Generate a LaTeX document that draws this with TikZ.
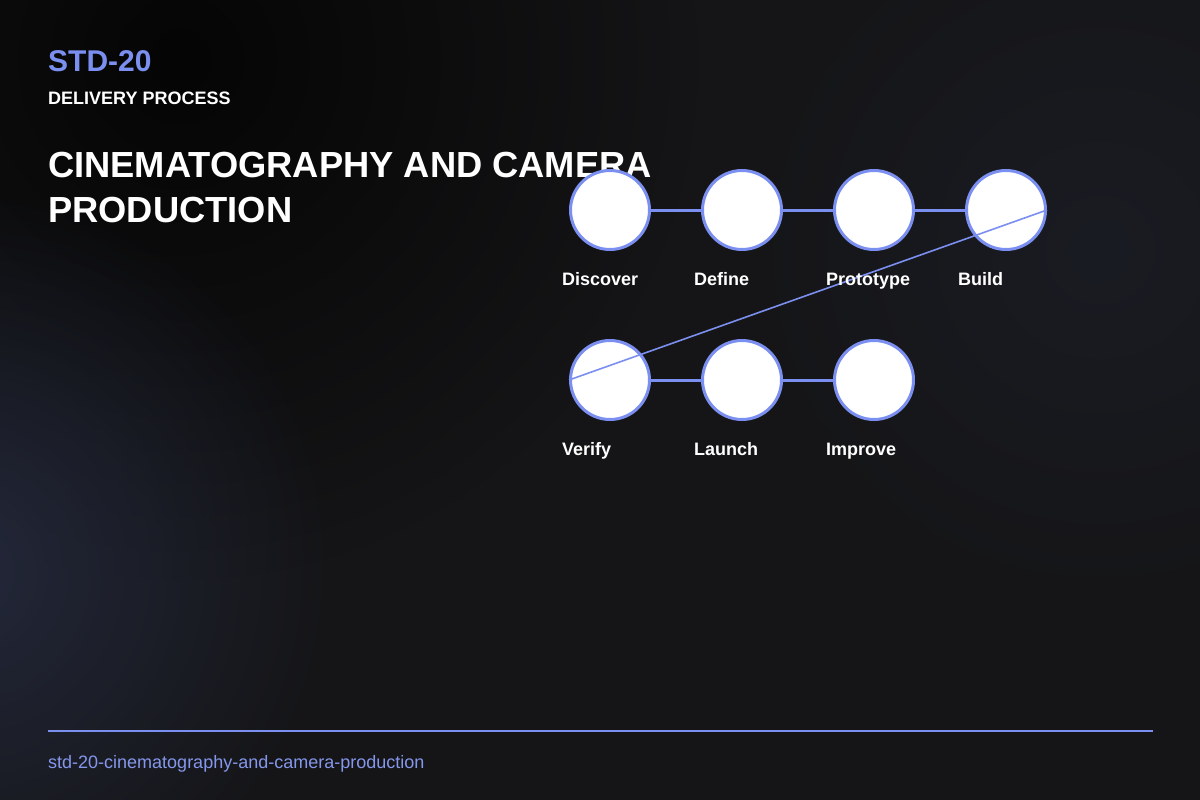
\documentclass[tikz,border=0pt]{standalone}
\usepackage{fontspec}
\setmainfont{Liberation Sans}
\usetikzlibrary{fadings}

\definecolor{bgbase}{HTML}{151517}
\definecolor{bgdark}{HTML}{050505}
\definecolor{bgglow}{HTML}{23283A}
\definecolor{accent}{HTML}{7B8FF0}
\definecolor{footblue}{HTML}{8597EC}

\tikzfading[name=softglow, inner color=transparent!0, outer color=transparent!100]

\tikzset{
  stage/.style={circle, draw=accent, line width=3pt, fill=white, minimum size=79pt, inner sep=0pt},
  stagelabel/.style={anchor=base west, inner sep=0pt, text=white, font=\bfseries\fontsize{18pt}{18pt}\selectfont},
  link/.style={draw=accent, line width=3pt},
  jump/.style={draw=accent, line width=1.6pt},
}

\begin{document}
\begin{tikzpicture}[x=1pt, y=-1pt]
    \useasboundingbox (0,0) rectangle (1200,800);
    \fill[bgbase] (0,0) rectangle (1200,800); % page
\begin{scope}
\clip (0,0) rectangle (1200,800);
\fill[bgdark, path fading=softglow] (180,60) circle (520); % dark corner
\fill[bgglow, path fading=softglow] (-40,570) circle (380); % blue glow
\fill[bgglow!35!bgbase, path fading=softglow] (1100,250) circle (380); % right glow
\end{scope}

    % header
\node (code) [anchor=base west, inner sep=0pt, text=accent, font=\bfseries\fontsize{30pt}{30pt}\selectfont] at (48,72) {STD-20};
\node (kind) [anchor=base west, inner sep=0pt, text=white, font=\bfseries\fontsize{18pt}{18pt}\selectfont] at (48,104) {DELIVERY PROCESS};
\node (title) [anchor=base west, inner sep=0pt, text=white, font=\bfseries\fontsize{36.3pt}{36pt}\selectfont] at (48,177) {CINEMATOGRAPHY AND CAMERA};
\node (title2) [anchor=base west, inner sep=0pt, text=white, font=\bfseries\fontsize{36.3pt}{36pt}\selectfont] at (48,222) {PRODUCTION};

    % links behind the stages
\draw[link] (610,210) -- (742,210) -- (874,210) -- (1006,210); % row 1
\draw[link] (610,380) -- (742,380) -- (874,380); % row 2

    % stages
\node (discover) [stage] at (610,210) {};
\node (define) [stage] at (742,210) {};
\node (prototype) [stage] at (874,210) {};
\node (build) [stage] at (1006,210) {};
\node (verify) [stage] at (610,380) {};
\node (launch) [stage] at (742,380) {};
\node (improve) [stage] at (874,380) {};

\draw[jump] (build.east) -- (verify.west); % wrap

\node (discoverlbl) [stagelabel] at (562,285) {Discover};
\node (definelbl) [stagelabel] at (694,285) {Define};
\node (prototypelbl) [stagelabel] at (826,285) {Prototype};
\node (buildlbl) [stagelabel] at (958,285) {Build};
\node (verifylbl) [stagelabel] at (562,455) {Verify};
\node (launchlbl) [stagelabel] at (694,455) {Launch};
\node (improvelbl) [stagelabel] at (826,455) {Improve};

    % footer
\coordinate (rulestart) at (48,731);
\coordinate (ruleend) at (1153,731);
\draw[accent, line width=2pt] (rulestart) -- (ruleend); % rule
\node (slug) [anchor=base west, inner sep=0pt, text=footblue, font=\fontsize{18pt}{18pt}\selectfont] at (48,768) {std-20-cinematography-and-camera-production};

    \end{tikzpicture}
\end{document}
